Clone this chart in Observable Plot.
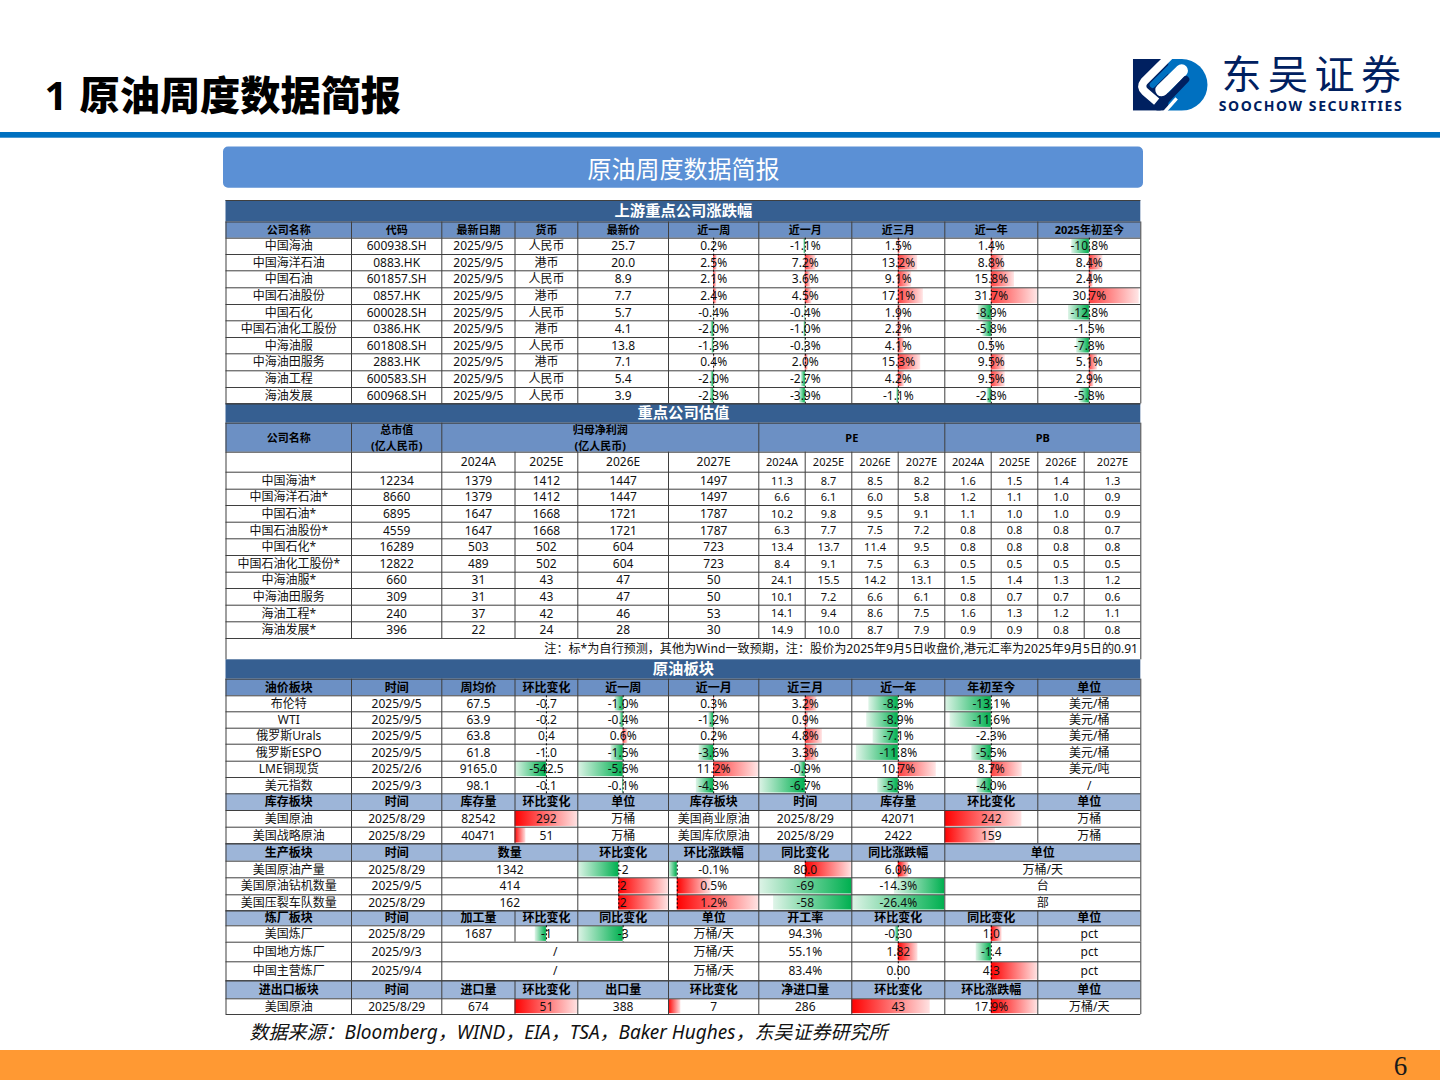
<!DOCTYPE html>
<html lang="zh-CN">
<head>
<meta charset="utf-8">
<style>html,body{margin:0;padding:0;background:#fff}svg{display:block}
.logo-cn text{letter-spacing:6.5px}.logo-en text{letter-spacing:1.55px}</style>
<script src="https://cdn.jsdelivr.net/npm/d3@7"></script>
<script src="https://cdn.jsdelivr.net/npm/@observablehq/plot@0.6"></script>
</head>
<body>
<script>
// ---------- data: upstream price moves ----------
const upNames = ["中国海油","中国海洋石油","中国石油","中国石油股份","中国石化","中国石油化工股份","中海油服","中海油田服务","海油工程","海油发展"];
const upCodes = ["600938.SH","0883.HK","601857.SH","0857.HK","600028.SH","0386.HK","601808.SH","2883.HK","600583.SH","600968.SH"];
const upCurrency = ["人民币","港币","人民币","港币","人民币","港币","人民币","港币","人民币","人民币"];
const upPrice = ["25.7","20.0","8.9","7.7","5.7","4.1","13.8","7.1","5.4","3.9"];
const upWeek = [0.2,2.5,2.1,2.4,-0.4,-2.0,-1.3,0.4,-2.0,-2.3];
const upMonth = [-1.1,7.2,3.6,4.5,-0.4,-1.0,-0.3,2.0,-2.7,-3.9];
const up3M = [1.5,13.2,9.1,17.1,1.9,2.2,4.1,15.3,4.2,-1.1];
const upYear = [1.4,8.8,15.8,31.7,-8.9,-5.8,0.5,9.5,9.5,-2.8];
const upYTD = [-10.8,8.4,2.4,30.7,-12.8,-1.5,-7.8,5.1,2.9,-5.8];
// ---------- data: valuation ----------
const valNames = ["中国海油*","中国海洋石油*","中国石油*","中国石油股份*","中国石化*","中国石油化工股份*","中海油服*","中海油田服务","海油工程*","海油发展*"];
const valCap = [12234,8660,6895,4559,16289,12822,660,309,240,396];
const profit24 = [1379,1379,1647,1647,503,489,31,31,37,22];
const profit25 = [1412,1412,1668,1668,502,502,43,43,42,24];
const profit26 = [1447,1447,1721,1721,604,604,47,47,46,28];
const profit27 = [1497,1497,1787,1787,723,723,50,50,53,30];
const pe24 = ["11.3","6.6","10.2","6.3","13.4","8.4","24.1","10.1","14.1","14.9"];
const pe25 = ["8.7","6.1","9.8","7.7","13.7","9.1","15.5","7.2","9.4","10.0"];
const pe26 = ["8.5","6.0","9.5","7.5","11.4","7.5","14.2","6.6","8.6","8.7"];
const pe27 = ["8.2","5.8","9.1","7.2","9.5","6.3","13.1","6.1","7.5","7.9"];
const pb24 = ["1.6","1.2","1.1","0.8","0.8","0.5","1.5","0.8","1.6","0.9"];
const pb25 = ["1.5","1.1","1.0","0.8","0.8","0.5","1.4","0.7","1.3","0.9"];
const pb26 = ["1.4","1.0","1.0","0.8","0.8","0.5","1.3","0.7","1.2","0.8"];
const pb27 = ["1.3","0.9","0.9","0.7","0.8","0.5","1.2","0.6","1.1","0.8"];
const yearLabels = ["2024A","2025E","2026E","2027E"];
// ---------- data: oil block ----------
const oilNames = ["布伦特","WTI","俄罗斯Urals","俄罗斯ESPO","LME铜现货","美元指数"];
const oilDates = ["2025/9/5","2025/9/5","2025/9/5","2025/9/5","2025/2/6","2025/9/3"];
const oilAvg = ["67.5","63.9","63.8","61.8","9165.0","98.1"];
const oilChg = [-0.7,-0.2,0.4,-1.0,-542.5,-0.1];
const oilWeek = [-1.0,-0.4,0.6,-1.5,-5.6,-0.1];
const oilMonth = [0.3,-1.2,0.2,-3.6,11.2,-4.3];
const oil3M = [3.2,0.9,4.8,3.3,-0.9,-6.7];
const oilYear = [-8.3,-8.9,-7.1,-11.8,10.7,-5.8];
const oilYTD = [-13.1,-11.6,-2.3,-5.5,8.7,-4.0];
const oilUnits = ["美元/桶","美元/桶","美元/桶","美元/桶","美元/吨","/"];
// ---------- data: headers and note ----------
const upHeader = ["公司名称","代码","最新日期","货币","最新价","近一周","近一月","近三月","近一年","2025年初至今"];
const oilHeader = ["油价板块","时间","周均价","环比变化","近一周","近一月","近三月","近一年","年初至今","单位"];
const stockHeader = ["库存板块","时间","库存量","环比变化","单位","库存板块","时间","库存量","环比变化","单位"];
const refineHeader = ["炼厂板块","时间","加工量","环比变化","同比变化","单位","开工率","环比变化","同比变化","单位"];
const tradeHeader = ["进出口板块","时间","进口量","环比变化","出口量","环比变化","净进口量","环比变化","环比涨跌幅","单位"];
const noteText = "注：标*为自行预测，其他为Wind一致预期，注：股价为2025年9月5日收盘价,港元汇率为2025年9月5日的0.91";
const sourceText = "数据来源：Bloomberg，WIND，EIA，TSA，Baker Hughes，东吴证券研究所";

// ---------- table grid ----------
const colX = [225.5,351,441.3,514.5,577.3,668,758.3,851.3,944.3,1037.3,1140.3];
const subX = [804.7,897.7,990.7,1083.7];
const upRows = [237.7,254,270.3,287.3,304,320.3,337,353.3,370.3,387,403.3];
const valRows = [471.7,488.7,505,521.7,538.3,555,571.7,588,604.7,621.3,638];
const oilRows = [695.3,711.3,727.7,743.7,760.7,777,793.3];
const stockRows = [810,826.7,843.3];
const prodRows = [860.7,877.3,894.3,910.3];
const refineRows = [925.3,941.7,961.3,980.3];

const FONT = '"Noto Sans","Noto Sans CJK SC",sans-serif';
const cells=[], fills=[], bars=[], dashes=[], vlines=[], hlines=[];
const pct = v => v.toFixed(1)+"%";
const body = {size:12, weight:400, fill:"#111"};
const small = {size:11, weight:400, fill:"#111"};
const head = {size:12, weight:700, fill:"#000"};
const head11 = {size:11, weight:700, fill:"#000"};
const band = {size:15.3, weight:700, fill:"#fff"};

function txt(x,y,t,st){cells.push({x,y,t:String(t),...st});}
function span(c0,c1,y0,y1,t,st){txt((colX[c0]+colX[c1])/2,(y0+y1)/2+0.3,t,st);}
function column(c,rows,vals,st=body){vals.forEach((v,i)=>span(c,c+1,rows[i],rows[i+1],v,st));}
function headerRow(y0,y1,labels,st,fill){
  fills.push({x1:colX[0],x2:colX[10],y1:y0,y2:y1,fill});
  labels.forEach((t,i)=>span(i,i+1,y0,y1,t,st));
}
function bandRow(y0,y1,t){
  fills.push({x1:colX[0],x2:colX[10],y1:y0,y2:y1,fill:"#365F91"});
  txt((colX[0]+colX[10])/2,(y0+y1)/2-0.4,t,band);
}
// a data bar grows from an axis placed at `frac` of the cell, length |v|/m of the free side
function bar(x0,x1,y0,y1,v,frac,m,soft,dash){
  const ax=x0+(x1-x0)*frac;
  const free=v<0?ax-x0:x1-ax;
  const len=free*Math.abs(v)/m;
  if(len>0.4) bars.push({x1:v<0?ax-len:ax,x2:v<0?ax:ax+len,y1:y0+0.8,y2:y1-0.8,kind:v<0?"g":(soft?"s":"r")});
  if(dash) dashes.push({x:ax,y1:y0,y2:y1});
}
function barColumn(c,rows,vals,m,soft=true,skip=[]){
  vals.forEach((v,i)=>{ if(!skip.includes(i)) bar(colX[c],colX[c+1],rows[i],rows[i+1],v,0.5,m,soft,false); });
  dashes.push({x:(colX[c]+colX[c+1])/2,y1:rows[0],y2:rows[rows.length-1]});
}
function vgrid(xs,y1,y2){xs.forEach(x=>vlines.push({x,y1,y2}));}
function hgrid(ys){ys.forEach(y=>hlines.push({y}));}

// --- upstream block
bandRow(200,221.5,"上游重点公司涨跌幅");
headerRow(221.5,237.7,upHeader,head11,"#6C90C4");
column(0,upRows,upNames); column(1,upRows,upCodes);
column(2,upRows,upNames.map(()=>"2025/9/5")); column(3,upRows,upCurrency); column(4,upRows,upPrice);
[upWeek,upMonth,up3M,upYear,upYTD].forEach((a,i)=>{
  barColumn(5+i,upRows,a,31.7,true,i===4?[5]:[]);
  column(5+i,upRows,a.map(pct));
});
vgrid(colX,221.5,403.3); hgrid([221.5,...upRows]);

// --- valuation block
bandRow(403.3,422.7,"重点公司估值");
fills.push({x1:colX[0],x2:colX[10],y1:422.7,y2:451.7,fill:"#6C90C4"});
span(0,1,422.7,451.7,"公司名称",head11);
txt((colX[1]+colX[2])/2,429.5,"总市值",head11); txt((colX[1]+colX[2])/2,446,"(亿人民币)",head11);
txt((colX[2]+colX[6])/2,429.5,"归母净利润",head11); txt((colX[2]+colX[6])/2,446,"(亿人民币)",head11);
span(6,8,422.7,451.7,"PE",head11); span(8,10,422.7,451.7,"PB",head11);
yearLabels.forEach((t,i)=>span(2+i,3+i,451.7,471.7,t,body));
const subMid=[(colX[6]+subX[0])/2,(subX[0]+colX[7])/2,(colX[7]+subX[1])/2,(subX[1]+colX[8])/2,(colX[8]+subX[2])/2,(subX[2]+colX[9])/2,(colX[9]+subX[3])/2,(subX[3]+colX[10])/2];
[...yearLabels,...yearLabels].forEach((t,i)=>txt(subMid[i],461.7,t,small));
column(0,valRows,valNames); column(1,valRows,valCap);
[profit24,profit25,profit26,profit27].forEach((a,i)=>column(2+i,valRows,a));
[pe24,pe25,pe26,pe27,pb24,pb25,pb26,pb27].forEach((a,i)=>a.forEach((v,r)=>txt(subMid[i],(valRows[r]+valRows[r+1])/2+0.3,v,small)));
vgrid([colX[0],colX[1],colX[2],colX[6],colX[8],colX[10]],422.7,451.7);
vgrid([...colX,...subX],451.7,638); hgrid([403.3,422.7,451.7,...valRows]);
// note
cells.push({x:1137.5,y:648.5,t:noteText,...body,size:12.1,anchor:"end"});
vgrid([colX[0],colX[10]],638,659.3);

// --- oil block
bandRow(659.3,678.7,"原油板块");
headerRow(678.7,695.3,oilHeader,head,"#6C90C4");
column(0,oilRows,oilNames); column(1,oilRows,oilDates); column(2,oilRows,oilAvg);
barColumn(3,oilRows,oilChg,542.5); column(3,oilRows,oilChg.map(v=>v.toFixed(1)));
barColumn(4,oilRows,oilWeek,5.6); column(4,oilRows,oilWeek.map(pct));
barColumn(5,oilRows,oilMonth,11.2); column(5,oilRows,oilMonth.map(pct));
oil3M.forEach((v,i)=>bar(colX[6],colX[7],oilRows[i],oilRows[i+1],v,0.5,v<0?6.7:13,true,false));
dashes.push({x:(colX[6]+colX[7])/2,y1:oilRows[0],y2:oilRows[6]}); column(6,oilRows,oil3M.map(pct));
barColumn(7,oilRows,oilYear,13.1); column(7,oilRows,oilYear.map(pct));
barColumn(8,oilRows,oilYTD,13.1,true,[2]); column(8,oilRows,oilYTD.map(pct));
column(9,oilRows,oilUnits);
vgrid(colX,678.7,843.3); hgrid([678.7,...oilRows]);

// --- inventory block
const stockA = ["美国原油","美国战略原油"], stockB = ["美国商业原油","美国库欣原油"];
const stockAQty = [82542,40471], stockAChg = [292,51], stockBQty = [42071,2422], stockBChg = [242,159];
const stockDates = ["2025/8/29","2025/8/29"], stockUnits = ["万桶","万桶"];
headerRow(793.3,810,stockHeader,head,"#9DB5D8");
column(0,stockRows,stockA); column(1,stockRows,stockDates); column(2,stockRows,stockAQty);
stockAChg.forEach((v,i)=>bar(colX[3],colX[4],stockRows[i],stockRows[i+1],v,0,292,false,false));
column(3,stockRows,stockAChg); column(4,stockRows,stockUnits);
column(5,stockRows,stockB); column(6,stockRows,stockDates); column(7,stockRows,stockBQty);
stockBChg.forEach((v,i)=>bar(colX[8],colX[9],stockRows[i],stockRows[i+1],v,0,292,false,false));
column(8,stockRows,stockBChg); column(9,stockRows,stockUnits);
hgrid(stockRows);

// --- production block
const prodNames = ["美国原油产量","美国原油钻机数量","美国压裂车队数量"];
const prodDates = ["2025/8/29","2025/9/5","2025/8/29"];
const prodQty = [1342,414,162];
const prodChg = [-2,2,2];
const prodPct = [-0.1,0.5,1.2];
const prodYoY = [80.0,-69,-58];
const prodYoYPct = [6.0,-14.3,-26.4];
const prodUnits = ["万桶/天","台","部"];
fills.push({x1:colX[0],x2:colX[10],y1:843.3,y2:860.7,fill:"#9DB5D8"});
[["生产板块",0,1],["时间",1,2],["数量",2,4],["环比变化",4,5],["环比涨跌幅",5,6],["同比变化",6,7],["同比涨跌幅",7,8],["单位",8,10]].forEach(([t,a,b])=>span(a,b,843.3,860.7,t,head));
column(0,prodRows,prodNames); column(1,prodRows,prodDates);
prodQty.forEach((v,i)=>span(2,4,prodRows[i],prodRows[i+1],v,body));
prodChg.forEach((v,i)=>bar(colX[4],colX[5],prodRows[i],prodRows[i+1],v,0.452,2,false,true));
column(4,prodRows,prodChg);
prodPct.forEach((v,i)=>bar(colX[5],colX[6],prodRows[i],prodRows[i+1],v,0.097,v<0?0.1:1.2,false,true));
column(5,prodRows,prodPct.map(pct));
bar(colX[6],colX[7],prodRows[0],prodRows[1],prodYoY[0],0.5,80,false,true);
[1,2].forEach(i=>bar(colX[6],colX[7],prodRows[i],prodRows[i+1],prodYoY[i],1,69,false,false));
column(6,prodRows,prodYoY.map((v,i)=>i===0?v.toFixed(1):v));
bar(colX[7],colX[8],prodRows[0],prodRows[1],prodYoYPct[0],0.5,26.4,false,true);
[1,2].forEach(i=>bar(colX[7],colX[8],prodRows[i],prodRows[i+1],prodYoYPct[i],1,26.4,false,false));
column(7,prodRows,prodYoYPct.map(pct));
prodUnits.forEach((v,i)=>span(8,10,prodRows[i],prodRows[i+1],v,body));
vgrid([colX[0],colX[1],colX[2],colX[4],colX[5],colX[6],colX[7],colX[8],colX[10]],843.3,910.3);
hgrid([843.3,...prodRows]);

// --- refinery block
const refineNames = ["美国炼厂","中国地方炼厂","中国主营炼厂"];
const refineDates = ["2025/8/29","2025/9/3","2025/9/4"];
const refineUtil = ["94.3%","55.1%","83.4%"];
const refineChg = [-0.30,1.82,0.00];
const refineYoY = [1.0,-1.4,4.3];
headerRow(910.3,925.3,refineHeader,head,"#9DB5D8");
column(0,refineRows,refineNames); column(1,refineRows,refineDates);
span(2,3,925.3,941.7,1687,body);
bar(colX[3],colX[4],925.3,941.7,-1,0.5,2.8,false,true); span(3,4,925.3,941.7,-1,body);
bar(colX[4],colX[5],925.3,941.7,-3,0.5,3,false,true); span(4,5,925.3,941.7,-3,body);
[1,2].forEach(i=>span(2,5,refineRows[i],refineRows[i+1],"/",body));
column(5,refineRows,["万桶/天","万桶/天","万桶/天"]); column(6,refineRows,refineUtil);
barColumn(7,refineRows,refineChg,4.3,false); column(7,refineRows,refineChg.map(v=>v.toFixed(2)));
barColumn(8,refineRows,refineYoY,4.3,false); column(8,refineRows,refineYoY.map(v=>v.toFixed(1)));
column(9,refineRows,["pct","pct","pct"]);
vgrid(colX,910.3,941.7);
vgrid([colX[0],colX[1],colX[2],colX[5],colX[6],colX[7],colX[8],colX[9],colX[10]],941.7,980.3);
hgrid([910.3,...refineRows]);

// --- trade block
const tradeVals = ["美国原油","2025/8/29",674,51,388,7,286,43,"17.9%","万桶/天"];
headerRow(980.3,998.3,tradeHeader,head,"#9DB5D8");
tradeVals.forEach((v,i)=>span(i,i+1,998.3,1014,v,body));
bar(colX[3],colX[4],998.3,1014,51,0,51,false,false);
bar(colX[5],colX[6],998.3,1014,7,0,51,false,false);
bar(colX[7],colX[8],998.3,1014,43,0,51,false,false);
bar(colX[8],colX[9],998.3,1014,17.9,0.5,17.9,false,true);
vgrid(colX,980.3,1014); hgrid([980.3,998.3,1014]);
hlines.push({y:200});

// ---------- marks ----------
const gradients = () => {
  const defs = d3.create("svg:defs");
  const grad=(id,a,b,rev)=>{
    const g=defs.append("linearGradient").attr("id",id).attr("x1",rev?1:0).attr("x2",rev?0:1).attr("y1",0).attr("y2",0);
    g.append("stop").attr("offset",0).attr("stop-color",a);
    g.append("stop").attr("offset",1).attr("stop-color",b);
  };
  grad("gRed","#ff0000","#ffe2e2",false);
  grad("gSoft","#ff4040","#ffe6e6",false);
  grad("gGreen","#00b050","#dff4e8",true);
  return defs.node();
};
const logo = () => {
  const g = d3.create("svg:g").attr("transform","translate(960,40) scale(0.3333)");
  g.append("rect").attr("x",519).attr("y",57).attr("width",108).attr("height",155).attr("fill","#002060");
  g.append("path").attr("d","M625,57H665A77.5,77.5 0 0 1 665,212H625Z").attr("fill","#0070c0");
  const line=(d,w,c,cap="round")=>g.append("path").attr("d",d).attr("fill","none").attr("stroke",c).attr("stroke-width",w).attr("stroke-linecap",cap).attr("stroke-linejoin","round");
  line("M632,45L552,125Q540,140 555,155L590,185",24,"#fff","butt");
  line("M605,150L665,92",38,"#fff");
  line("M578,135L660,53",18,"#0070c0");
  line("M650,175L612,218",10,"#fff","butt");
  line("M678,118L596,204",20,"#002060");
  g.append("rect").attr("x",519).attr("y",212).attr("width",240).attr("height",25).attr("fill","#fff");
  g.append("rect").attr("x",600).attr("y",30).attr("width",100).attr("height",27).attr("fill","#fff");
  return g.node();
};
const textMarks = Array.from(d3.group(cells,d=>[d.size,d.weight,d.fill,d.anchor||"middle"].join("|")).values(),
  rows => Plot.text(rows,{x:"x",y:"y",text:"t",fontSize:rows[0].size,fontWeight:rows[0].weight,fill:rows[0].fill,
    textAnchor:rows[0].anchor||"middle",lineAnchor:"middle",fontFamily:FONT}));

const chart = Plot.plot({
  width:1440,height:1080,margin:0,
  x:{domain:[0,1440],range:[0,1440],axis:null},
  y:{domain:[0,1080],range:[0,1080],axis:null},
  style:{background:"#fff"},
  marks:[
    gradients,
    // page furniture
    Plot.rect([{x1:0,x2:1440,y1:132,y2:137.7}],{x1:"x1",x2:"x2",y1:"y1",y2:"y2",fill:"#0070C0"}),
    Plot.rect([{x1:0,x2:1440,y1:1050,y2:1080}],{x1:"x1",x2:"x2",y1:"y1",y2:"y2",fill:"#FF9933"}),
    Plot.rect([{x1:223,x2:1143,y1:146.5,y2:187.7}],{x1:"x1",x2:"x2",y1:"y1",y2:"y2",fill:"#5B90D5",r:5}),
    Plot.text(["1"],{x:()=>44,y:()=>97,text:d=>d,fontSize:40,fontWeight:700,fill:"#000",textAnchor:"start",lineAnchor:"middle",fontFamily:FONT}),
    Plot.text(["原油周度数据简报"],{x:()=>79,y:()=>97,text:d=>d,fontSize:40.2,fontWeight:900,fill:"#000",textAnchor:"start",lineAnchor:"middle",fontFamily:'"Noto Sans CJK SC"'}),
    Plot.text(["原油周度数据简报"],{x:()=>683,y:()=>170,text:d=>d,fontSize:24,fontWeight:400,fill:"#fff",lineAnchor:"middle",fontFamily:'"Noto Sans CJK SC"'}),
    logo,
    Plot.text(["东吴证券"],{x:()=>1314,y:()=>75.5,text:d=>d,fontSize:40,fontWeight:400,fill:"#002060",lineAnchor:"middle",fontFamily:'"Noto Sans CJK SC"',className:"logo-cn"}),
    Plot.text(["SOOCHOW SECURITIES"],{x:()=>1310.5,y:()=>106,text:d=>d,fontSize:14,fontWeight:700,fill:"#002060",lineAnchor:"middle",fontFamily:FONT,className:"logo-en"}),
    Plot.text([sourceText],{x:()=>249,y:()=>1032.5,text:d=>d,fontSize:19,fontStyle:"italic",fill:"#111",textAnchor:"start",lineAnchor:"middle",fontFamily:FONT}),
    Plot.text(["6"],{x:()=>1400,y:()=>1066,text:d=>d,fontSize:27,fill:"#1a1a1a",lineAnchor:"middle",fontFamily:'"Liberation Serif"'}),
    // table fills
    Plot.rect(fills,{x1:"x1",x2:"x2",y1:"y1",y2:"y2",fill:d=>d.fill}),
    // data bars
    Plot.rect(bars.filter(d=>d.kind==="r"),{x1:"x1",x2:"x2",y1:"y1",y2:"y2",fill:"url(#gRed)"}),
    Plot.rect(bars.filter(d=>d.kind==="s"),{x1:"x1",x2:"x2",y1:"y1",y2:"y2",fill:"url(#gSoft)"}),
    Plot.rect(bars.filter(d=>d.kind==="g"),{x1:"x1",x2:"x2",y1:"y1",y2:"y2",fill:"url(#gGreen)"}),
    // grid
    Plot.ruleY(hlines,{y:"y",x1:colX[0],x2:colX[10],stroke:"#3f3f3f",strokeWidth:1}),
    Plot.ruleX(vlines,{x:"x",y1:"y1",y2:"y2",stroke:"#3f3f3f",strokeWidth:1}),
    Plot.ruleX(dashes,{x:"x",y1:"y1",y2:"y2",stroke:"#000",strokeWidth:1,strokeDasharray:"2,2"}),
    // texts
    ...textMarks
  ]
});
document.body.appendChild(chart);
</script>
</body>
</html>
